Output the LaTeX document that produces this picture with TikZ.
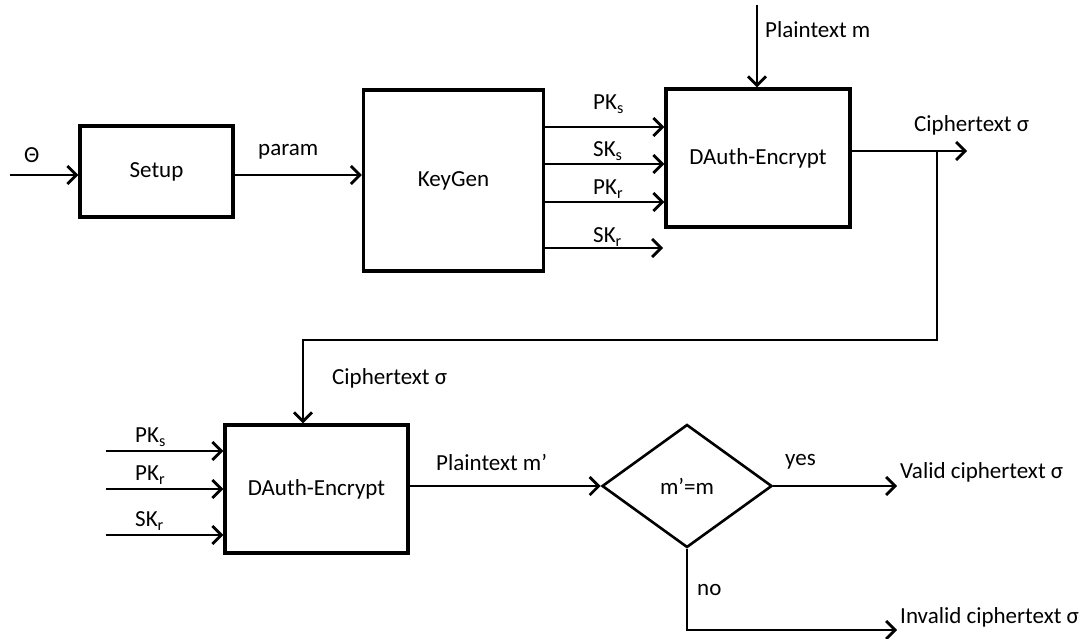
\documentclass[tikz,border=0pt]{standalone}
\usepackage{fontspec}
\setmainfont{Carlito}
\usetikzlibrary{arrows.meta,shapes.geometric}
\begin{document}
\begin{tikzpicture}[x=1pt,y=-1pt,
  font=\fontsize{23}{27}\selectfont,
  blk/.style={draw,line width=3.4pt,minimum width=#1,inner sep=0pt},
  flow/.style={line width=2.8pt,-{Straight Barb[length=9pt,width=18pt,line width=2.8pt]}},
  lbl/.style={inner sep=0pt,anchor=west}]
\useasboundingbox (0,0) rectangle (1087,639);

% blocks of the encryption stage
\node[blk=153pt,minimum height=91pt] (setup) at (156.5,171.5) {Setup};
\node[blk=180pt,minimum height=181pt] (keygen) at (453.5,180.5) {KeyGen};
\node[blk=184pt,minimum height=138pt] (enc) at (758,158) {DAuth-Encrypt};

% blocks of the decryption stage
\node[blk=183pt,minimum height=128pt] (dec) at (316.5,489) {DAuth-Encrypt};
\node[draw,line width=2.6pt,diamond,minimum width=170pt,minimum height=123pt,inner sep=0pt,aspect=1.38] (chk) at (687,486) {m’=m};

% free ends
\coordinate (theta) at (10,175);
\coordinate (ptop) at (757,5);
\coordinate (cout) at (967,151);
\coordinate (split) at (937,151);
\coordinate (skr) at (663,248);
\coordinate (valid) at (897,486);
\coordinate (invalid) at (897,630);

% encryption stage connectors
\draw[flow] (theta) -- (theta -| setup.west);
\draw[flow] (setup.east |- 0,175) -- (keygen.west |- 0,175);
\draw[flow] (ptop) -- (ptop |- enc.north);
\draw[flow] (keygen.east |- 0,127) -- (enc.west |- 0,127);
\draw[flow] (keygen.east |- 0,164) -- (enc.west |- 0,164);
\draw[flow] (keygen.east |- 0,202) -- (enc.west |- 0,202);
\draw[flow] (keygen.east |- skr) -- (skr);
\draw[flow] (enc.east |- cout) -- (cout);

% ciphertext passed down to the decryption stage
\draw[flow] (split) -- (937,340) -- (303,340) -- (303 ,340 |- dec.north);

% decryption stage inputs
\draw[flow] (106,451) -- (dec.west |- 0,451);
\draw[flow] (106,489) -- (dec.west |- 0,489);
\draw[flow] (106,535) -- (dec.west |- 0,535);
\draw[flow] (dec.east |- chk.west) -- (chk.west);
\draw[flow] (chk.east) -- (valid);
\draw[flow] (chk.south) -- (chk.south |- invalid) -- (invalid);

% labels
\node[lbl] (lth) at (24,155) {Θ};
\node[lbl] (lparam) at (258,152) {param};
\node[lbl] (lpm) at (765,30) {Plaintext m};
\node[lbl] (lpks) at (593,104) {PK\textsubscript{s}};
\node[lbl] (lsks) at (593,151) {SK\textsubscript{s}};
\node[lbl] (lpkr) at (593,189) {PK\textsubscript{r}};
\node[lbl] (lskr) at (593,237) {SK\textsubscript{r}};
\node[lbl] (lc1) at (914,125) {Ciphertext σ};
\node[lbl] (lc2) at (332,378) {Ciphertext σ};
\node[lbl] (dpks) at (135,437) {PK\textsubscript{s}};
\node[lbl] (dpkr) at (135,475) {PK\textsubscript{r}};
\node[lbl] (dskr) at (135,521) {SK\textsubscript{r}};
\node[lbl] (lpm2) at (436,462) {Plaintext m’};
\node[lbl] (lyes) at (785,462) {yes};
\node[lbl] (lno) at (697,590) {no};
\node[lbl] (lvalid) at (900,472) {Valid ciphertext σ};
\node[lbl] (linv) at (900,617) {Invalid ciphertext σ};
\end{tikzpicture}
\end{document}
